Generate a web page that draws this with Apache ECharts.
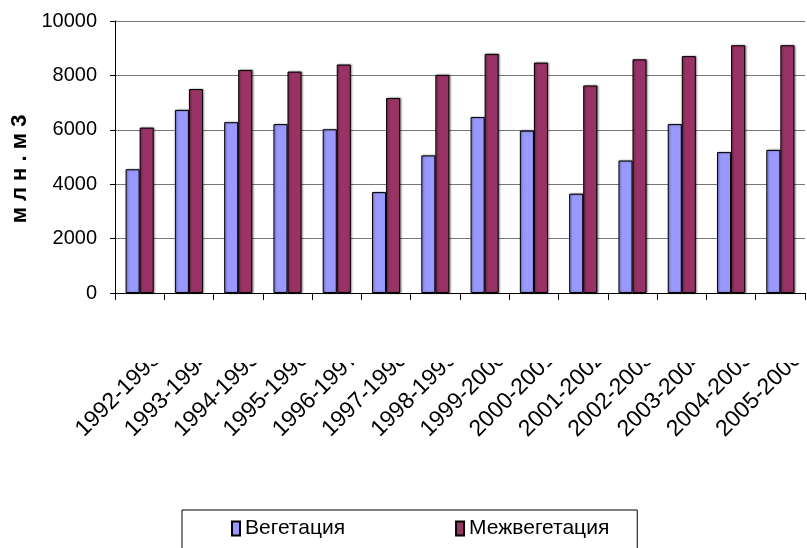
<!DOCTYPE html>
<html>
<head>
<meta charset="utf-8">
<script src="https://cdn.jsdelivr.net/npm/echarts@6/dist/echarts.min.js"></script>
<style>
  html, body { margin: 0; padding: 0; background: #fff; }
  #chart { width: 807px; height: 548px; }
</style>
</head>
<body>
<div id="chart"></div>
<script>
const seasons = ["1992-1993", "1993-1994", "1994-1995", "1995-1996", "1996-1997", "1997-1998", "1998-1999",
  "1999-2000", "2000-2001", "2001-2002", "2002-2003", "2003-2004", "2004-2005", "2005-2006"];
const vegetation = [4550, 6730, 6280, 6210, 6020, 3710, 5060, 6470, 5970, 3650, 4870, 6210, 5180, 5260];
const interVegetation = [6080, 7500, 8200, 8140, 8400, 7170, 8020, 8790, 8470, 7630, 8590, 8710, 9110, 9110];
const yTicks = [0, 2000, 4000, 6000, 8000, 10000];

const FONT = '"Liberation Sans", Arial, sans-serif';

const chart = echarts.init(document.getElementById("chart"));

const barStyle = (color) => ({
  color: color,
  borderColor: "#000",
  borderWidth: 1,
  shadowColor: "rgba(0,0,0,0.45)",
  shadowBlur: 2,
  shadowOffsetX: 1,
  shadowOffsetY: 0
});

chart.setOption({
  animation: false,
  backgroundColor: "#fff",
  grid: { left: 115, right: 2, top: 21, bottom: 255, outerBoundsMode: "none", containLabel: false },
  xAxis: {
    type: "category",
    data: seasons,
    axisLine: { lineStyle: { color: "#000", width: 1 } },
    axisTick: { show: true, length: 7, lineStyle: { color: "#000" } },
    axisLabel: {
      interval: 0,
      rotate: 45,
      margin: 80,
      padding: [0, -25, 0, 0],
      color: "#000",
      fontFamily: FONT,
      fontSize: 23
    }
  },
  yAxis: {
    type: "value",
    min: yTicks[0],
    max: yTicks[yTicks.length - 1],
    interval: yTicks[1] - yTicks[0],
    name: "м л н . м 3",
    nameLocation: "middle",
    nameGap: 65,
    nameRotate: 90,
    nameTextStyle: { color: "#000", fontFamily: FONT, fontSize: 22, fontWeight: "bold", padding: [0, 0, 0, -24] },
    axisLine: { show: true, lineStyle: { color: "#000", width: 1 } },
    axisTick: { show: true, inside: false, length: 5, lineStyle: { color: "#000" } },
    axisLabel: { margin: 18, color: "#000", fontFamily: FONT, fontSize: 20, formatter: (v) => String(v) },
    splitLine: { lineStyle: { color: "#777", width: 1 } }
  },
  legend: {
    left: 182,
    top: 510,
    orient: "horizontal",
    borderColor: "#000",
    borderWidth: 1,
    padding: [8, 28, 30, 49],
    itemGap: 110,
    itemWidth: 8,
    itemHeight: 14,
    icon: "rect",
    textStyle: { color: "#000", fontFamily: FONT, fontSize: 21 },
    data: ["Вегетация", "Межвегетация"]
  },
  graphic: [
    {
      type: "rect",
      z: 100,
      shape: { x: 40, y: 304, width: 767, height: 59 },
      style: { fill: "#fff" }
    }
  ],
  series: [
    {
      name: "Вегетация",
      type: "bar",
      data: vegetation,
      barGap: "0%",
      barCategoryGap: "43%",
      itemStyle: barStyle("#9999FF")
    },
    {
      name: "Межвегетация",
      type: "bar",
      data: interVegetation,
      itemStyle: barStyle("#993366")
    }
  ]
});
</script>
</body>
</html>
